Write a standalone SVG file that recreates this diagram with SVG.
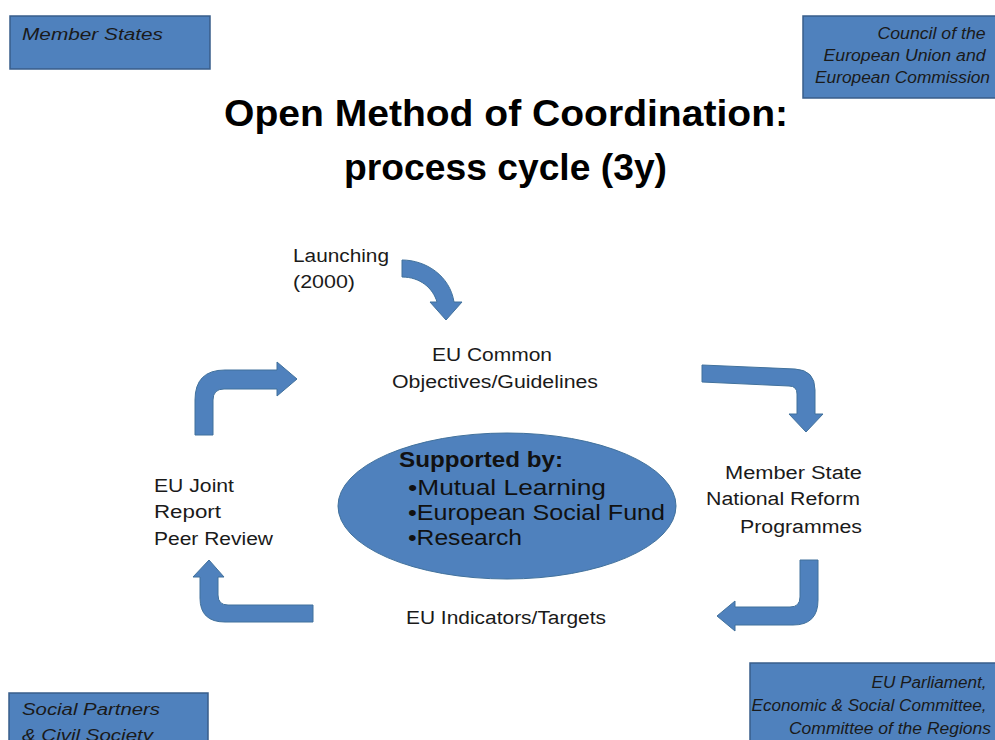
<svg xmlns="http://www.w3.org/2000/svg" width="995" height="740" viewBox="0 0 995 740">
  <style>
    .box { fill: #4F81BD; stroke: #385D8A; stroke-width: 1.5; }
    .arrow { fill: #4F81BD; stroke: #41719C; stroke-width: 1; }
    .boxtxt { font-family: "Liberation Sans", Arial, sans-serif; font-style: italic; font-size: 16px; fill: #1a1a1a; }
    .lbl { font-family: "Liberation Sans", Arial, sans-serif; font-size: 18px; fill: #1a1a1a; }
    .title { font-family: "Liberation Sans", Arial, sans-serif; font-weight: bold; font-size: 36px; fill: #000; }
    .ell { font-family: "Liberation Sans", Arial, sans-serif; font-size: 22px; fill: #111; }
  </style>

  <rect width="995" height="740" fill="#ffffff"/>

  <!-- actor boxes in the corners -->
  <g id="member-states">
    <rect class="box" x="10" y="16" width="200" height="53"/>
    <text class="boxtxt" x="22" y="40" textLength="141" lengthAdjust="spacingAndGlyphs">Member States</text>
  </g>
  <g id="council">
    <rect class="box" x="803" y="16" width="200" height="82"/>
    <text class="boxtxt" text-anchor="end">
      <tspan x="990" y="39" textLength="108" lengthAdjust="spacingAndGlyphs">Council of the</tspan>
      <tspan x="990" y="61" textLength="162" lengthAdjust="spacingAndGlyphs">European Union and</tspan>
      <tspan x="990" y="83" textLength="175" lengthAdjust="spacingAndGlyphs">European Commission</tspan>
    </text>
  </g>
  <g id="social-partners">
    <rect class="box" x="9" y="693" width="199" height="60"/>
    <text class="boxtxt">
      <tspan x="22" y="715" textLength="138" lengthAdjust="spacingAndGlyphs">Social Partners</tspan>
      <tspan x="22" y="741" textLength="131" lengthAdjust="spacingAndGlyphs">&amp; Civil Society</tspan>
    </text>
  </g>
  <g id="eu-parliament">
    <rect class="box" x="750" y="663" width="255" height="90"/>
    <text class="boxtxt" text-anchor="end">
      <tspan x="991" y="688" textLength="115" lengthAdjust="spacingAndGlyphs">EU Parliament,</tspan>
      <tspan x="991" y="711" textLength="235" lengthAdjust="spacingAndGlyphs">Economic &amp; Social Committee,</tspan>
      <tspan x="991" y="734" textLength="202" lengthAdjust="spacingAndGlyphs">Committee  of the Regions</tspan>
    </text>
  </g>

  <!-- title -->
  <g id="title">
    <text class="title" x="224" y="126" textLength="564" lengthAdjust="spacingAndGlyphs">Open Method of Coordination:</text>
    <text class="title" x="344" y="180" textLength="323" lengthAdjust="spacingAndGlyphs">process cycle (3y)</text>
  </g>

  <!-- cycle stages -->
  <g id="launching">
    <text class="lbl">
      <tspan x="293" y="262" textLength="96" lengthAdjust="spacingAndGlyphs">Launching</tspan>
      <tspan x="293" y="288" textLength="62" lengthAdjust="spacingAndGlyphs">(2000)</tspan>
    </text>
  </g>
  <g id="objectives">
    <text class="lbl">
      <tspan x="432" y="361" textLength="120" lengthAdjust="spacingAndGlyphs">EU Common</tspan>
      <tspan x="392" y="388" textLength="206" lengthAdjust="spacingAndGlyphs">Objectives/Guidelines</tspan>
    </text>
  </g>
  <g id="national-reform">
    <text class="lbl">
      <tspan x="725" y="479" textLength="137" lengthAdjust="spacingAndGlyphs">Member State</tspan>
      <tspan x="706" y="505" textLength="154" lengthAdjust="spacingAndGlyphs">National Reform</tspan>
      <tspan x="740" y="533" textLength="122" lengthAdjust="spacingAndGlyphs">Programmes</tspan>
    </text>
  </g>
  <g id="indicators">
    <text class="lbl" x="406" y="624" textLength="200" lengthAdjust="spacingAndGlyphs">EU Indicators/Targets</text>
  </g>
  <g id="joint-report">
    <text class="lbl">
      <tspan x="154" y="492" textLength="80" lengthAdjust="spacingAndGlyphs">EU Joint</tspan>
      <tspan x="154" y="518" textLength="67" lengthAdjust="spacingAndGlyphs">Report</tspan>
      <tspan x="154" y="545" textLength="119" lengthAdjust="spacingAndGlyphs">Peer Review</tspan>
    </text>
  </g>

  <!-- central support ellipse -->
  <g id="support">
    <ellipse cx="507" cy="506" rx="169" ry="73" fill="#4F81BD" stroke="#41719C" stroke-width="1"/>
    <text class="ell" x="399" y="467" font-weight="bold" font-size="21" textLength="164" lengthAdjust="spacingAndGlyphs">Supported by:</text>
    <text class="ell" x="408" y="495" textLength="198" lengthAdjust="spacingAndGlyphs">•Mutual Learning</text>
    <text class="ell" x="408" y="520" textLength="257" lengthAdjust="spacingAndGlyphs">•European Social Fund</text>
    <text class="ell" x="408" y="545" textLength="114" lengthAdjust="spacingAndGlyphs">•Research</text>
  </g>

  <!-- block arrows between stages -->
  <g id="connectors">
    <path class="arrow" d="M402,260 C426,260 450,276 454,302 L462,302 L446,320 L430,302 L437,302 C433,288 420,277 402,277 Z"/>
    <path class="arrow" d="M702,365 L795,369 Q815,370 815,390 L815,414 L823,414 L806,432 L789,414 L797,414 L797,394 Q797,386 789,386 L702,382 Z"/>
    <path class="arrow" d="M800,560 L818,560 L818,600 Q818,625 793,625 L735,625 L735,631 L717,616 L735,601 L735,607 L790,607 Q800,607 800,597 Z"/>
    <path class="arrow" d="M313,605 L228,605 Q218,605 218,595 L218,577 L224,577 L209,560 L193,577 L200,577 L200,598 Q200,622 225,622 L313,622 Z"/>
    <path class="arrow" d="M195,435 L213,435 L213,400 Q213,389 224,389 L277,389 L277,396 L297,379 L277,362 L277,370 L225,370 Q195,370 195,400 Z"/>
  </g>
</svg>
